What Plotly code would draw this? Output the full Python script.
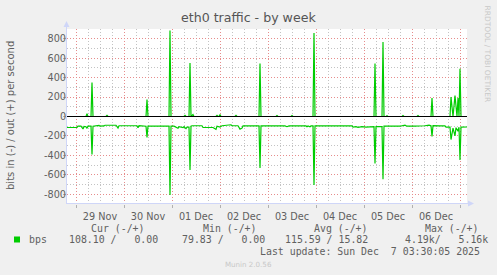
import plotly.graph_objects as go

# ---------------- data ----------------
out_times = [
    "2025-11-28 19:30", "2025-11-29 05:00", "2025-11-29 05:30", "2025-11-29 06:00",
    "2025-11-29 07:30", "2025-11-29 08:00", "2025-11-29 08:30", "2025-11-29 15:00",
    "2025-11-29 15:30", "2025-11-29 16:00", "2025-11-30 11:00", "2025-11-30 11:30",
    "2025-11-30 12:00", "2025-11-30 22:30", "2025-11-30 23:00", "2025-11-30 23:30",
    "2025-12-01 06:00", "2025-12-01 06:30", "2025-12-01 07:00", "2025-12-01 08:30",
    "2025-12-01 09:00", "2025-12-01 09:30", "2025-12-01 10:30", "2025-12-01 11:00",
    "2025-12-01 22:00", "2025-12-01 22:30", "2025-12-01 23:00", "2025-12-01 23:30",
    "2025-12-02 00:00", "2025-12-02 00:30", "2025-12-02 07:30", "2025-12-02 08:00",
    "2025-12-02 08:30", "2025-12-02 19:30", "2025-12-02 20:00", "2025-12-02 20:30",
    "2025-12-03 04:00", "2025-12-03 04:30", "2025-12-03 05:00", "2025-12-03 11:30",
    "2025-12-03 12:00", "2025-12-03 12:30", "2025-12-03 22:30", "2025-12-03 23:00",
    "2025-12-03 23:30", "2025-12-05 05:00", "2025-12-05 05:30", "2025-12-05 06:00",
    "2025-12-05 09:00", "2025-12-05 09:30", "2025-12-05 10:00", "2025-12-05 11:00",
    "2025-12-05 11:30", "2025-12-05 12:00", "2025-12-05 19:00", "2025-12-05 19:30",
    "2025-12-05 20:00", "2025-12-06 02:30", "2025-12-06 03:00", "2025-12-06 03:30",
    "2025-12-06 09:30", "2025-12-06 10:00", "2025-12-06 10:30", "2025-12-06 19:00",
    "2025-12-06 19:30", "2025-12-06 20:30", "2025-12-06 21:30", "2025-12-06 22:30",
    "2025-12-06 23:00", "2025-12-06 23:30", "2025-12-07 00:00", "2025-12-07 00:30",
    "2025-12-07 03:30",
]
out_bps = [
    0, 0, 30, 0,
    0, 350, 0, 0,
    12, 0, 0, 175,
    0, 0, 885, 0,
    0, 12, 0, 0,
    550, 0, 20, 0,
    0, 12, 0, 0,
    20, 0, 0, 12,
    0, 0, 545, 0,
    0, 10, 0, 0,
    10, 0, 0, 860,
    0, 0, 545, 0,
    0, 765, 0, 0,
    8, 0, 0, 10,
    0, 0, 10, 0,
    0, 190, 0, 0,
    200, 0, 215, 0,
    190, 0, 490, 0,
    0,
]

in_times = [
    "2025-11-28 19:30", "2025-11-29 00:30", "2025-11-29 01:00", "2025-11-29 02:30",
    "2025-11-29 03:30", "2025-11-29 04:00", "2025-11-29 05:00", "2025-11-29 05:30",
    "2025-11-29 06:00", "2025-11-29 07:30", "2025-11-29 08:00", "2025-11-29 08:30",
    "2025-11-29 11:30", "2025-11-29 12:00", "2025-11-29 14:00", "2025-11-29 14:30",
    "2025-11-29 20:00", "2025-11-29 21:00", "2025-11-29 21:30", "2025-11-30 06:30",
    "2025-11-30 07:00", "2025-11-30 07:30", "2025-11-30 11:00", "2025-11-30 11:30",
    "2025-11-30 12:00", "2025-11-30 22:30", "2025-11-30 23:00", "2025-11-30 23:30",
    "2025-12-01 01:00", "2025-12-01 03:00", "2025-12-01 03:30", "2025-12-01 05:30",
    "2025-12-01 06:00", "2025-12-01 07:00", "2025-12-01 07:30", "2025-12-01 08:30",
    "2025-12-01 09:00", "2025-12-01 09:30", "2025-12-01 10:00", "2025-12-01 15:00",
    "2025-12-01 15:30", "2025-12-01 20:30", "2025-12-01 21:30", "2025-12-01 22:00",
    "2025-12-01 22:30", "2025-12-02 00:00", "2025-12-02 01:00", "2025-12-02 05:30",
    "2025-12-02 06:00", "2025-12-02 09:00", "2025-12-02 10:00", "2025-12-02 11:00",
    "2025-12-02 11:30", "2025-12-02 19:30", "2025-12-02 20:00", "2025-12-02 20:30",
    "2025-12-03 08:30", "2025-12-03 09:30", "2025-12-03 10:30", "2025-12-03 19:00",
    "2025-12-03 19:30", "2025-12-03 20:00", "2025-12-03 21:00", "2025-12-03 21:30",
    "2025-12-03 22:30", "2025-12-03 23:00", "2025-12-03 23:30", "2025-12-04 18:00",
    "2025-12-04 18:30", "2025-12-04 20:00", "2025-12-04 21:00", "2025-12-04 23:00",
    "2025-12-05 01:00", "2025-12-05 03:00", "2025-12-05 05:00", "2025-12-05 05:30",
    "2025-12-05 06:00", "2025-12-05 08:00", "2025-12-05 09:00", "2025-12-05 09:30",
    "2025-12-05 10:00", "2025-12-05 13:00", "2025-12-05 16:00", "2025-12-05 18:00",
    "2025-12-05 20:30", "2025-12-05 21:30", "2025-12-06 01:00", "2025-12-06 04:00",
    "2025-12-06 06:30", "2025-12-06 08:30", "2025-12-06 09:30", "2025-12-06 10:00",
    "2025-12-06 10:30", "2025-12-06 14:00", "2025-12-06 16:30", "2025-12-06 17:00",
    "2025-12-06 19:00", "2025-12-06 19:30", "2025-12-06 20:30", "2025-12-06 21:30",
    "2025-12-06 22:00", "2025-12-06 23:00", "2025-12-06 23:30", "2025-12-07 00:00",
    "2025-12-07 00:30", "2025-12-07 03:30",
]
in_bps = [
    113, 113, 100, 100,
    128, 102, 105, 122,
    100, 100, 390, 100,
    92, 100, 97, 90,
    90, 118, 95, 95,
    115, 95, 100, 215,
    100, 100, 808, 100,
    100, 120, 105, 115,
    105, 125, 110, 110,
    550, 100, 95, 95,
    113, 113, 125, 132,
    100, 108, 95, 85,
    95, 95, 130, 120,
    97, 97, 530, 97,
    97, 105, 97, 97,
    105, 97, 105, 97,
    97, 705, 97, 97,
    110, 105, 112, 105,
    110, 108, 105, 482,
    105, 105, 105, 645,
    100, 100, 103, 100,
    90, 100, 98, 100,
    95, 88, 95, 205,
    95, 97, 97, 110,
    110, 237, 120, 200,
    115, 150, 110, 447,
    110, 108,
]

y_tick_vals = [-800, -600, -400, -200, 0, 200, 400, 600, 800]
y_tick_text = ["-800", "-600", "-400", "-200", "0", "200", "400", "600", "800"]

x_range = ["2025-11-28 19:30", "2025-12-07 03:30"]
y_range = [-900, 900]

legend_headers = ["Cur (-/+)", "Min (-/+)", "Avg (-/+)", "Max (-/+)"]
legend_values = ["108.10 /\u00a0\u00a0\u00a00.00", "79.83 /\u00a0\u00a0\u00a00.00",
                 "115.59 / 15.82", "4.19k/\u00a0\u00a0\u00a05.16k"]
series_name = "bps"
last_update = "Last update: Sun Dec\u00a0\u00a07 03:30:05 2025"

# ---------------- figure ----------------
W, H = 497, 275
L, R, T, B = 67, 467, 29, 204
GREEN = "#00CC00"
FONT = "DejaVu Sans"
MONO = "DejaVu Sans Mono"
TXT = "#606060"
AXISC = "#CFD6F8"


def px(x):
    return (x - L) / (R - L)


def py(y):
    return (B - y) / (B - T)


fig = go.Figure()
fig.add_trace(go.Scatter(x=in_times, y=[-v for v in in_bps], mode="lines",
                         line=dict(color=GREEN, width=1.2), hoverinfo="skip"))
fig.add_trace(go.Scatter(x=out_times, y=out_bps, mode="lines",
                         line=dict(color=GREEN, width=1.2), hoverinfo="skip"))

MAJ = "rgb(230,140,140)"
MIN = "rgb(195,195,195)"
DASH = "1px,2px"

fig.update_xaxes(
    type="date", range=x_range, tick0="2025-11-29", dtick=86400000,
    ticklabelmode="period", tickformat="%d %b",
    showgrid=True, gridcolor=MAJ, griddash=DASH, gridwidth=1,
    ticks="outside", ticklen=3, tickcolor="#b0b0b0",
    minor=dict(tick0="2025-11-29", dtick=6 * 3600000, showgrid=True,
               gridcolor=MIN, griddash=DASH, gridwidth=1, ticks=""),
    showline=False, zeroline=False,
    tickfont=dict(family=FONT, size=9.7, color=TXT),
)
fig.update_yaxes(
    range=y_range, tickmode="array", tickvals=y_tick_vals, ticktext=y_tick_text,
    showgrid=True, gridcolor=MAJ, griddash=DASH, gridwidth=1,
    minor=dict(tickmode="linear", tick0=0, dtick=100, showgrid=True,
               gridcolor=MIN, griddash=DASH, gridwidth=1, ticks=""),
    ticks="outside", ticklen=3, tickcolor="#b0b0b0", ticklabelstandoff=-5,
    showline=False, zeroline=False,
    tickfont=dict(family=FONT, size=9.7, color=TXT),
)

shapes = [
    # zero rule
    dict(type="line", xref="paper", yref="y", x0=0, x1=1, y0=0, y1=0,
         line=dict(color="black", width=1), layer="above"),
    # left axis + arrow
    dict(type="line", xref="paper", yref="paper", x0=px(66.5), x1=px(66.5),
         y0=py(204), y1=py(24), line=dict(color=AXISC, width=1), layer="above"),
    dict(type="path", xref="paper", yref="paper",
         path=f"M {px(63.5)} {py(27)} L {px(69.5)} {py(27)} L {px(66.5)} {py(21)} Z",
         fillcolor=AXISC, line=dict(width=0), layer="above"),
    # bottom axis + arrow
    dict(type="line", xref="paper", yref="paper", x0=px(66), x1=px(470),
         y0=py(203.5), y1=py(203.5), line=dict(color=AXISC, width=1), layer="above"),
    dict(type="path", xref="paper", yref="paper",
         path=f"M {px(468)} {py(200.5)} L {px(468)} {py(206.5)} L {px(474)} {py(203.5)} Z",
         fillcolor=AXISC, line=dict(width=0), layer="above"),
    # legend colour box
    dict(type="rect", xref="paper", yref="paper", x0=px(14), x1=px(20),
         y0=py(242.5), y1=py(236.5), fillcolor=GREEN, line=dict(width=0)),
]

ann = []


def text(t, x, y, size, color=TXT, family=FONT, xanchor="left", angle=0):
    ann.append(dict(text=t, x=px(x), y=py(y), xref="paper", yref="paper",
                    xanchor=xanchor, yanchor="middle", showarrow=False,
                    textangle=angle,
                    font=dict(family=family, size=size, color=color)))


text("eth0 traffic - by week", 248.5, 18, 12.6, color="#555555", xanchor="center")
text("bits in (-) / out (+) per second", 10.5, 115.5, 10, xanchor="center", angle=-90)
text("RRDTOOL / TOBI OETIKER", 487, 53.5, 7.5, color="#c8c8c8", xanchor="center", angle=90)

hdr_x = [89, 201, 312, 423]
for h, x in zip(legend_headers, hdr_x):
    text(h, x, 228, 9.9, family=MONO)
text(series_name, 27, 239.5, 9.9, family=MONO)
val_x = [67, 180, 283, 403]
for v, x in zip(legend_values, val_x):
    text(v, x, 239.5, 9.9, family=MONO)
text(last_update, 482, 251, 9.9, family=MONO, xanchor="right")
text("Munin 2.0.56", 248, 264, 7.1, color="#c8c8c8", xanchor="center")

fig.update_layout(
    width=W, height=H,
    margin=dict(l=L, r=W - R, t=T, b=H - B, pad=0),
    paper_bgcolor="#F0F0F0", plot_bgcolor="#FFFFFF",
    showlegend=False, shapes=shapes, annotations=ann,
)

fig.write_html("out.html")
